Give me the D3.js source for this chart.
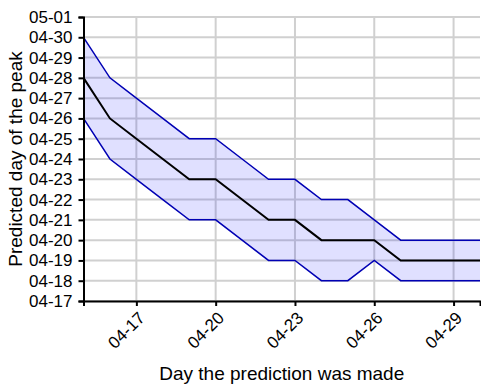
<!DOCTYPE html>
<html>
<head>
<meta charset="utf-8">
<script src="https://cdn.jsdelivr.net/npm/d3@7"></script>
<style>
  body { margin: 0; background: #fff; }
  svg { display: block; font-family: "Liberation Sans", Arial, sans-serif; }
</style>
</head>
<body>
<svg id="chart" width="481" height="385"></svg>
<script>
// prediction days (x) and predicted peak days (y)
const days = ['04-15','04-16','04-17','04-18','04-19','04-20','04-21','04-22',
              '04-23','04-24','04-25','04-26','04-27','04-28','04-29','04-30'];
const median = ['04-28','04-26','04-25','04-24','04-23','04-23','04-22','04-21',
                '04-21','04-20','04-20','04-20','04-19','04-19','04-19','04-19'];
const upper  = ['04-30','04-28','04-27','04-26','04-25','04-25','04-24','04-23',
                '04-23','04-22','04-22','04-21','04-20','04-20','04-20','04-20'];
const lower  = ['04-26','04-24','04-23','04-22','04-21','04-21','04-20','04-19',
                '04-19','04-18','04-18','04-19','04-18','04-18','04-18','04-18'];
const xTicks = ['04-17','04-20','04-23','04-26','04-29'];
const yTicks = ['04-17','04-18','04-19','04-20','04-21','04-22','04-23','04-24',
                '04-25','04-26','04-27','04-28','04-29','04-30','05-01'];

const parse = d3.timeParse('%Y-%m-%d');
const toDate = s => parse('2020-' + s);
const fmt = d3.timeFormat('%m-%d');

const width = 481, height = 385;
const margin = { top: 17, right: 1, bottom: 84, left: 83.5 };
const innerW = width - margin.left - margin.right;
const innerH = height - margin.top - margin.bottom;

const svg = d3.select('#chart');
const g = svg.append('g').attr('transform', `translate(${margin.left},${margin.top})`);

const x = d3.scaleTime()
  .domain([toDate('04-15'), toDate('04-30')])
  .range([0, innerW]);
const y = d3.scaleTime()
  .domain([toDate('04-17'), toDate('05-01')])
  .range([innerH, 0]);

const rows = days.map((d, i) => ({
  x: toDate(d), m: toDate(median[i]), hi: toDate(upper[i]), lo: toDate(lower[i])
}));

// grid
g.append('g')
  .selectAll('line')
  .data(yTicks.map(toDate))
  .join('line')
  .attr('x1', 0).attr('x2', innerW)
  .attr('y1', d => y(d)).attr('y2', d => y(d))
  .attr('stroke', '#d0d0d0').attr('stroke-width', 2);
g.append('g')
  .selectAll('line')
  .data(xTicks.map(toDate))
  .join('line')
  .attr('y1', 0).attr('y2', innerH)
  .attr('x1', d => x(d)).attr('x2', d => x(d))
  .attr('stroke', '#d0d0d0').attr('stroke-width', 2);

// band
g.append('path')
  .datum(rows)
  .attr('fill', 'rgba(0,0,255,0.12)')
  .attr('d', d3.area().x(d => x(d.x)).y0(d => y(d.lo)).y1(d => y(d.hi)));

const lineOf = key => d3.line().x(d => x(d.x)).y(d => y(d[key]));
g.append('path').datum(rows).attr('fill', 'none')
  .attr('stroke', '#0000b4').attr('stroke-width', 1.5).attr('d', lineOf('hi'));
g.append('path').datum(rows).attr('fill', 'none')
  .attr('stroke', '#0000b4').attr('stroke-width', 1.5).attr('d', lineOf('lo'));
g.append('path').datum(rows).attr('fill', 'none')
  .attr('stroke', '#000').attr('stroke-width', 2).attr('d', lineOf('m'));

// axes
const yAxis = g.append('g')
  .call(d3.axisLeft(y).tickValues(yTicks.map(toDate)).tickFormat(fmt).tickSizeOuter(0).tickSize(5).tickPadding(6));
const xAxis = g.append('g')
  .attr('transform', `translate(0,${innerH})`)
  .call(d3.axisBottom(x).tickValues(xTicks.map(toDate)).tickFormat(fmt).tickSizeOuter(0).tickSize(5));

[yAxis, xAxis].forEach(a => {
  a.attr('font-size', 17).attr('font-family', '"Liberation Sans", Arial, sans-serif');
  a.select('.domain').attr('stroke', '#000').attr('stroke-width', 2);
  a.selectAll('.tick line').attr('stroke', '#000').attr('stroke-width', 2);
  a.selectAll('text').attr('fill', '#000');
});

xAxis.selectAll('text')
  .attr('text-anchor', 'end')
  .attr('x', 0).attr('y', 0).attr('dy', 0)
  .attr('transform', 'translate(9,18) rotate(-45)');

// titles
svg.append('text')
  .attr('x', margin.left + innerW / 2)
  .attr('y', 380)
  .attr('text-anchor', 'middle')
  .attr('font-size', 19)
  .text('Day the prediction was made');
svg.append('text')
  .attr('transform', `translate(21.5,${margin.top + innerH / 2}) rotate(-90)`)
  .attr('text-anchor', 'middle')
  .attr('font-size', 19)
  .text('Predicted day of the peak');
</script>
</body>
</html>
